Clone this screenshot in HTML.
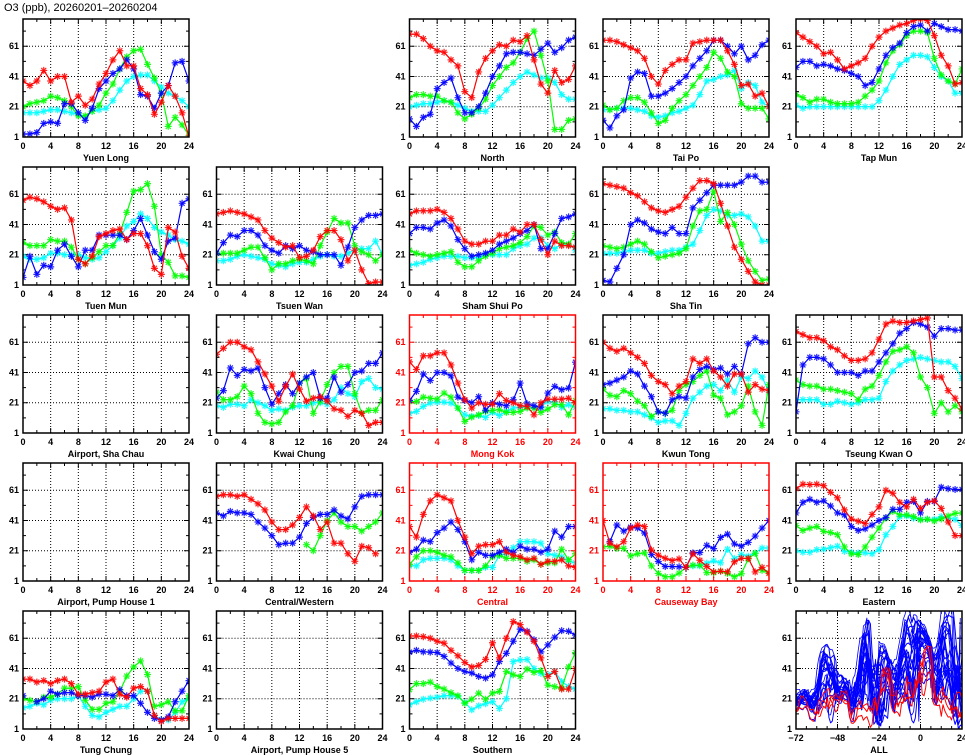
<!DOCTYPE html>
<html><head><meta charset="utf-8"><style>
html,body{margin:0;padding:0;background:#fff;}
svg{display:block;font-family:"Liberation Sans",sans-serif;font-weight:bold;}
</style></head><body>
<svg id="s" width="965" height="755" xmlns="http://www.w3.org/2000/svg">
<text x="4" y="11" font-size="11" font-weight="normal" fill="#000">O3 (ppb), 20260201–20260204</text>
</svg>
<script>
const NS="http://www.w3.org/2000/svg";
const svg=document.getElementById('s');
const X0=[23,216.5,409.5,603,796],Y0=[19,167,315,463,611],W=166,H=118;
const N=null;
const S=[
{c:0,r:0,n:"Yuen Long",d:[
[38,35,38,45,38,41,41,24,28,22,26,36,43,52,58,48,48,33,29,16,24,35,28,17,1],
[3,3,4,10,11,10,23,23,17,12,20,33,38,43,46,52,46,29,28,20,30,35,50,51,38],
[21,23,24,25,28,27,25,21,15,15,18,22,30,36,46,54,58,59,49,40,30,8,14,9,2],
[17,17,17,18,19,19,18,17,16,14,18,19,20,25,32,38,41,42,42,38,34,30,28,25,21]]},
{c:2,r:0,n:"North",d:[
[69,69,66,61,58,57,52,48,31,27,44,53,58,62,61,65,64,68,52,36,30,45,37,39,48],
[13,8,14,16,33,37,40,27,17,17,21,30,41,48,56,57,57,56,55,59,63,57,60,65,67],
[27,29,29,28,28,25,24,17,13,16,20,26,35,41,47,50,57,66,71,55,38,6,6,12,13],
[21,22,23,23,24,25,24,22,20,18,18,18,22,27,32,37,41,44,42,40,40,37,29,26,26]]},
{c:3,r:0,n:"Tai Po",d:[
[65,65,64,62,60,58,53,41,36,45,49,52,52,63,64,65,65,65,58,49,35,36,28,30,21],
[12,7,15,19,40,44,43,28,28,30,33,37,41,48,53,58,65,65,61,56,61,52,55,62,65],
[22,19,20,25,27,27,24,17,10,12,20,25,29,35,41,47,57,53,44,41,23,20,20,20,13],
[19,19,20,20,20,19,18,15,14,15,17,18,20,22,29,38,39,41,42,45,33,37,35,24,21]]},
{c:4,r:0,n:"Tap Mun",d:[
[70,67,64,61,56,57,52,46,48,50,53,61,67,71,73,75,76,78,79,78,68,55,48,36,37],
[47,51,51,48,49,48,46,45,43,41,35,37,46,55,60,63,70,74,75,71,76,74,72,72,71],
[29,27,24,26,26,24,23,23,23,24,28,32,38,50,58,62,68,71,71,70,53,42,38,36,46],
[22,20,21,21,21,21,21,21,21,21,21,21,25,32,41,49,52,55,55,54,47,41,38,30,30]]},
{c:0,r:1,n:"Tuen Mun",d:[
[57,59,58,56,53,51,52,44,18,15,20,33,35,37,38,31,35,35,27,12,8,39,36,20,12],
[6,20,8,14,13,24,28,20,13,24,24,34,34,34,34,31,37,45,34,23,18,30,32,55,58],
[29,27,27,27,31,30,30,26,18,15,19,23,27,27,35,49,63,64,68,53,21,16,7,7,6],
[20,18,18,19,22,22,21,21,21,19,18,19,23,27,32,40,43,48,45,39,36,34,31,30,28]]},
{c:1,r:1,n:"Tsuen Wan",d:[
[48,49,50,49,48,46,44,37,32,29,26,27,19,20,24,33,37,37,31,17,24,11,2,3,3],
[22,29,34,33,37,37,34,27,24,22,27,25,27,24,23,21,21,21,14,26,39,44,47,47,48],
[22,22,22,22,24,26,26,19,11,15,15,17,18,17,15,27,36,45,42,42,27,23,21,17,21],
[17,17,18,20,21,20,19,18,15,14,13,15,16,16,18,20,21,20,20,22,24,25,25,30,21]]},
{c:2,r:1,n:"Sham Shui Po",d:[
[48,50,50,50,51,49,45,38,30,28,28,30,30,34,34,38,36,41,41,31,21,30,27,27,26],
[35,39,39,38,42,44,40,31,25,20,21,22,24,28,30,32,35,37,41,25,25,35,45,46,48],
[24,22,21,20,21,22,23,16,13,13,17,20,22,25,26,27,29,33,40,39,34,36,29,28,35],
[14,15,16,18,19,20,20,20,19,19,19,21,21,21,21,25,27,28,32,32,27,25,28,28,24]]},
{c:3,r:1,n:"Sha Tin",d:[
[68,67,66,65,62,60,56,52,50,49,51,53,59,65,70,70,68,55,40,26,18,10,3,1,1],
[4,3,12,21,41,44,42,38,36,35,39,35,35,52,57,62,67,67,67,67,69,73,73,69,69],
[27,26,25,26,28,30,28,23,19,20,21,22,25,40,50,51,63,43,49,41,28,17,10,4,5],
[22,22,22,23,24,24,24,22,22,23,24,24,26,28,37,47,51,50,47,47,48,46,40,30,30]]},
{c:0,r:2,n:"Airport, Sha Chau",d:[]},
{c:1,r:2,n:"Kwai Chung",d:[
[53,57,61,61,58,56,48,40,32,22,32,40,30,22,24,25,22,17,16,12,16,14,6,8,8],
[24,29,44,39,43,42,44,31,20,27,33,27,34,38,41,24,24,38,28,33,41,42,47,47,54],
[28,23,23,25,32,27,14,8,7,8,15,19,34,37,14,22,33,41,45,45,27,14,16,16,23],
[19,18,20,20,19,23,21,19,16,17,16,18,19,19,21,21,20,23,31,27,25,35,37,31,30]]},
{c:2,r:2,n:"Mong Kok",red:1,d:[
[48,43,52,52,54,54,46,34,23,17.5,21,20,20,27,22.5,21,19,18.6,13,21,23.4,23.4,23.4,24,21],
[22.5,28.5,40,35.7,41,41,38.8,24.7,22.5,21,25,16,21,20,19,23,34,20.3,19,18,27.4,31.8,29.6,30.7,47.8],
[21.8,21.8,24.7,24,23.4,27.4,24.7,17.5,8.7,11.5,13,15.3,16,16.4,14.6,14.6,15.3,17.5,17.5,14.6,16.8,19.7,19.7,13,22.5],
[14,15.3,18.6,20.8,21.4,21.4,20.8,17.5,13,12,12.6,11.3,14.6,12.6,15.3,17.5,18,18,17.5,18.6,21.8,21.8,18,19.7,18]]},
{c:3,r:2,n:"Kwun Tong",d:[
[61,57,55,57,54,51,47,39,35,33,27,32,35,50,47,50,42,38,32,40,40,28,33,30,29],
[33,34,36,38,42,40,32,25,15,14,23,25,24,38,43,45,43,44,40,45,40,60,64,61,61],
[30,26,25,29,27,22,19,12,15,14,16,29,33,35,39,42,26,24,13,15,19,32,15,6,33],
[17,17,16,16,15,15,13,11,8,9,9,6,14,24,28,32,33,29,36,28,38,37,42,38,28]]},
{c:4,r:2,n:"Tseung Kwan O",d:[
[68,66,64,64,62,58,56,52,49,49,50,54,63,73,75,74,74,75,76,77,38,38,29,24,17],
[15,46,51,51,50,46,41,41,41,39,42,42,48,54,60,67,70,74,73,71,65,70,70,69,69],
[36,33,32,32,30,30,29,28,27,23,30,32,39,48,55,56,58,54,38,31,14,21,15,19,15],
[23,23,23,23,20,20,22,21,20,21,23,23,24,35,42,46,49,50,51,50,49,48,48,45,37]]},
{c:0,r:3,n:"Airport, Pump House 1",d:[]},
{c:1,r:3,n:"Central/Western",d:[
[57,58,58,57,58,55,52,48,40,35,35,38,43,50,44,35,40,26,26,19,14,24,23,19,N],
[46,44,47,46,46,45,40,36,31,25,26,26,30,39,43,45,45,48,44,42,50,57,58,58,58],
[N,N,N,N,N,N,N,N,N,N,N,N,N,25,21,31,41,46,40,37,37,34,37,40,46],
[]]},
{c:2,r:3,n:"Central",red:1,d:[
[37,30,45,54,58,56,54,41,30,19,24,25,25,27,20,18,17,15,16,12,14,14,15,11,10],
[20,22,28,27,33,36,40,35,27,15,20,18,18,20,22,20,24,22,22,20,22,34,30,37,37],
[12,17,21,21,20,18,17,13,8,8,8,11,17,18,16,16,16,14,15,12,13,13,22,15,19],
[11,11,15,16,16,16,15,11,8,8,8,10,10,18,19,23,27,27,27,26,19,18,17,14,13]]},
{c:3,r:3,n:"Causeway Bay",red:1,d:[
[41,26,23.5,27,36,38,37,21.5,18,16,14.5,15.6,10,19,14.7,10.6,7,7.5,7,13.7,16,16,7,10,6],
[N,27,38,34,36.6,36,32.7,18.5,13.9,10.6,10.6,10.4,10,19.6,19.8,24.6,22.4,29.8,32,25.5,24,26.5,30.7,36,41],
[23.5,24,22.6,22.6,17.6,19,19.6,11,6,3.8,3.8,6.2,10,11.5,11.5,6.5,6.5,7.5,6,3.8,5.8,15.6,19.3,8,6.5],
[N,N,N,N,N,N,N,N,N,N,N,N,N,11,11,12.8,14.3,13,22,15.8,18.5,17.4,19.5,22.8,22.8]]},
{c:4,r:3,n:"Eastern",d:[
[62,65,64.7,65,64,59.6,56,48,42,40.5,39,45,50,61,59,53,50,55,49,53,54,49,40,31,31],
[46,53,55,53,54,50.6,46,44.7,37,34.4,35.5,38,41,43,48.4,48.4,53,53.6,46,53.6,53.6,63,62,61.5,61.5],
[37.7,34.4,36,37,33.8,33,31.6,23.5,19,18.5,23.5,30,36,42.5,47,44.7,44.7,43.6,41.4,41.8,40.7,42,44,45.7,46],
[21,20,20,21.7,22,23,24,20.6,20,19.6,19.6,19,21.7,31.6,37,43.6,44,42.5,41.8,41.8,41.8,43.6,42.5,41.8,37.7]]},
{c:0,r:4,n:"Tung Chung",d:[
[34,34,32,33,31,33,34,31,24,24,25,26,32,34,24,22,28,29,26,10,6,8,8,8,8],
[23,N,19,21,26,24,25,25,23,23,22,24,24,23,27,23,23,18,12,8,7,9,19,26,33],
[21,20,19,22,22,24,28,28,29,20,14,14,18,19,26,36,42,46,37,16,17,19,13,13,23],
[15,16,18,17,20,21,21,21,23,16,10,9,12,14,16,16,21,26,26,10,7,7,12,19,21]]},
{c:1,r:4,n:"Airport, Pump House 5",d:[]},
{c:2,r:4,n:"Southern",d:[
[62.5,62.5,62,61,59,57.7,53,49.4,45,42,43,47,58,48,61,72,70,65,59,48,35.7,39,27.4,27.4,41],
[51.8,53,52,51.8,51.5,49,44.6,41,39,38,35.7,34.6,36.8,45.6,51,59,67,65.6,60,52,56.6,61.7,66,65.6,63],
[27,31,31,32,29,27.4,25,23,18,20.7,24.7,20.7,24.7,25.8,39,36.8,35.7,40.6,38.4,39.6,30,29,28,42,51.5],
[17,19,20.7,21.4,22,23,23,22.5,18.6,13.7,16.3,17.7,19,14.6,21,45.6,46.7,47,41,37.7,36.8,39,32.4,29,27.4]]}
];
const COL=["#ff0000","#0000ff","#00ff00","#00ffff"];
function el(t,a,p){const e=document.createElementNS(NS,t);for(const k in a)e.setAttribute(k,a[k]);(p||svg).appendChild(e);return e;}
let cid=0;
function frame(L,T,fc,xt,xmin,xmax,xstepMaj,xstepMin,name){
  const B=T+H,R=L+W;
  const g=el('g',{});
  const yv=v=>B-(v-1)*H/78;
  const xv=h=>L+(h-xmin)*W/(xmax-xmin);
  for(let h=xmin+xstepMaj;h<xmax;h+=xstepMaj) el('line',{x1:xv(h),y1:T,x2:xv(h),y2:B,stroke:"#000","stroke-width":1,"stroke-dasharray":"1,2"},g);
  for(const v of [21,41,61]) el('line',{x1:L,y1:yv(v),x2:R,y2:yv(v),stroke:"#000","stroke-width":1,"stroke-dasharray":"1,2"},g);
  for(let h=xmin;h<=xmax;h+=xstepMin){const maj=((h-xmin)%xstepMaj)==0;const len=maj?5:3;
    el('line',{x1:xv(h),y1:B,x2:xv(h),y2:B-len,stroke:fc,"stroke-width":1},g);
    el('line',{x1:xv(h),y1:T,x2:xv(h),y2:T+len,stroke:fc,"stroke-width":1},g);}
  for(let v=1;v<=71;v+=10){const len=((v-1)%20==0)?5:3;
    el('line',{x1:L,y1:yv(v),x2:L+len,y2:yv(v),stroke:fc,"stroke-width":1},g);
    el('line',{x1:R,y1:yv(v),x2:R-len,y2:yv(v),stroke:fc,"stroke-width":1},g);}
  for(const v of [1,21,41,61]){const t=el('text',{x:L-4,y:yv(v)+3,"font-size":9,"text-anchor":"end",fill:fc},g);t.textContent=v;}
  for(let h=xmin;h<=xmax;h+=xstepMaj){const t=el('text',{x:xv(h),y:B+12,"font-size":9,"text-anchor":"middle",fill:fc},g);t.textContent=(h<0?"−"+(-h):h);}
  const t=el('text',{x:L+W/2,y:B+24,"font-size":9,"text-anchor":"middle",fill:fc},g);t.textContent=name;
  return {yv,xv,B,R};
}
function clip(L,T){const id='c'+(cid++);const cp=el('clipPath',{id});el('rect',{x:L,y:T,width:W,height:H},cp);return id;}
function path(pts,col,w,gp){let d='';let pen=false;for(const p of pts){if(!p){pen=false;continue;}d+=(pen?'L':'M')+p[0].toFixed(1)+','+p[1].toFixed(1);pen=true;}
  if(d)el('path',{d,fill:"none",stroke:col,"stroke-width":w,"stroke-linejoin":"round"},gp);}
const order=[3,2,1,0];
for(const s of S){
  const L=X0[s.c],T=Y0[s.r];const fc=s.red?"#ff0000":"#000";
  const f=frame(L,T,fc,0,0,24,4,2,s.n);
  const id=clip(L,T);const gp=el('g',{"clip-path":"url(#"+id+")"});
  for(const k of order){const arr=s.d[k];if(!arr||!arr.length)continue;
    const pts=arr.map((v,i)=>v==null?null:[f.xv(i),f.yv(v)]);
    path(pts,COL[k],1.2,gp);
    for(const p of pts){if(!p)continue;const [x,y]=p,r=3.5,q=2.5;
      el('path',{d:`M${x-r},${y}L${x+r},${y}M${x},${y-r}L${x},${y+r}M${x-q},${y-q}L${x+q},${y+q}M${x-q},${y+q}L${x+q},${y-q}`,stroke:COL[k],"stroke-width":1.2,opacity:0.85},gp);}
  }
  el('rect',{x:L,y:T,width:W,height:H,fill:"none",stroke:fc,"stroke-width":1.5});
}
{
  const L=X0[4],T=Y0[4];
  const f=frame(L,T,"#000",0,-72,24,24,6,"ALL");
  const id=clip(L,T);const gp=el('g',{"clip-path":"url(#"+id+")"});
  const lines=[];
  S.forEach((s,si)=>{if(!s.d.length)return;const seq=[];
    [3,2,1,0].forEach((k,di)=>{const a=s.d[k]||[];for(let i=0;i<24;i++){let v=a.length?a[i]:null;
      if(v!=null)v=v+Math.sin(si*3+i)*2;seq.push(v==null?null:[f.xv(-72+di*24+i),f.yv(v)]);}});
    const last=s.d[0]&&s.d[0][24];if(last!=null)seq.push([f.xv(24),f.yv(last)]);
    lines.push({seq,red:s.red});
  });
  for(const l of lines) if(!l.red) path(l.seq,"#0000ff",1,gp);
  S.forEach((s,si)=>{if(!s.d.length||s.red||si%2)return;const seq=[];
    [3,2,1,0].forEach((k,di)=>{const a=s.d[k]||[];for(let i=0;i<24;i++){const v=a[(i+1)%24];seq.push(v==null?null:[f.xv(-72+di*24+i),f.yv(v*1.05+3)]);}});
    path(seq,"#0000ff",0.8,gp);});
  for(const l of lines) if(l.red) path(l.seq,"#ff0000",1,gp);
  el('rect',{x:L,y:T,width:W,height:H,fill:"none",stroke:"#000","stroke-width":1.5});
}
</script>
</body></html>
